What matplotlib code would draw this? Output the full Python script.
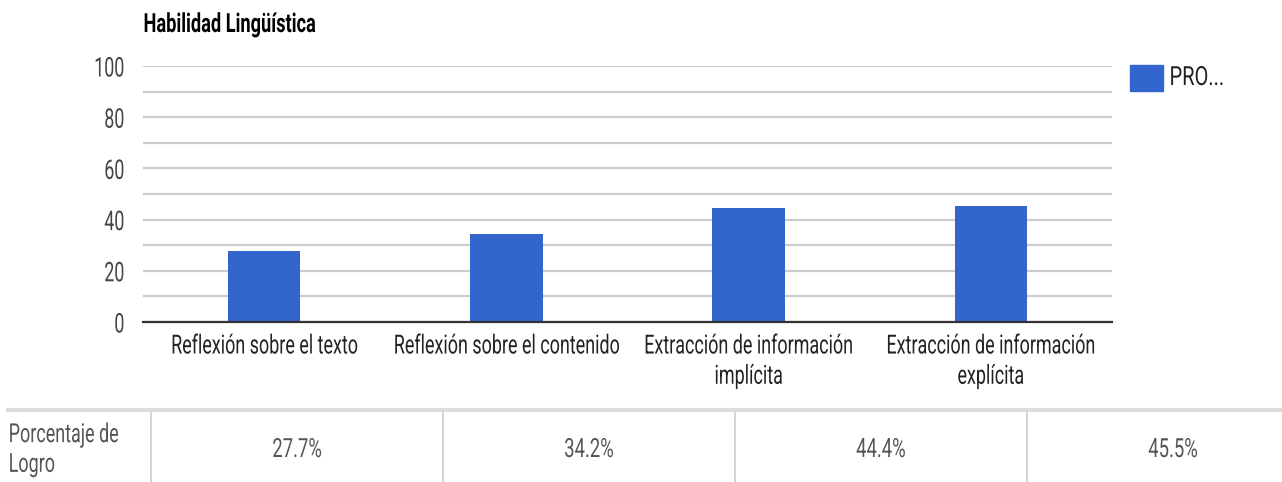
import matplotlib
matplotlib.use("Agg")
import matplotlib.pyplot as plt
from matplotlib.lines import Line2D
from matplotlib.patheffects import AbstractPathEffect
from matplotlib.transforms import Affine2D

categories = ["Reflexión sobre el texto", "Reflexión sobre el contenido",
              "Extracción de información\nimplícita", "Extracción de información\nexplícita"]
values = [27.7, 34.2, 44.4, 45.5]
value_labels = ["27.7%", "34.2%", "44.4%", "45.5%"]
series_name = "PRO..."
row_label = "Porcentaje de\nLogro"
title = "Habilidad Lingüística"

plt.rcParams['font.family'] = ['Roboto', 'DejaVu Sans']


class Squeeze(AbstractPathEffect):
    # no condensed font installed, so narrow the glyphs around the anchor point
    def __init__(self, sx=0.7, align=0.5):
        super().__init__()
        self.sx = sx
        self.align = align

    def draw_path(self, renderer, gc, tpath, affine, rgbFace=None):
        ext = tpath.get_extents()
        xa = ext.x0 + ext.width * self.align
        t = Affine2D().scale(self.sx, 1).translate(xa * (1 - self.sx), 0) + affine
        renderer.draw_path(gc, tpath, t, rgbFace)


W, H = 1282, 482
fig = plt.figure(figsize=(W / 100, H / 100), dpi=100)

# plot area in pixels: left 143, right 1112, top 66 (y=100), bottom 322 (y=0)
ax = fig.add_axes([143 / W, 1 - 322 / H, (1112 - 143) / W, (322 - 66) / H])
x = range(len(values))
ax.bar(x, values, width=0.3, color="#3366cc", zorder=3)
ax.set_xlim(-0.5, len(values) - 0.5)
ax.set_ylim(0, 100)
ax.set_yticks(range(0, 101, 20))
ax.set_yticks(range(0, 101, 10), minor=True)
ax.grid(axis="y", which="both", color="#cccccc", linewidth=1.6, zorder=0)
ax.set_xticks(list(x))
ax.set_xticklabels(categories, fontsize=19, color="#222222", linespacing=1.33, va="top")
ax.tick_params(axis="x", length=0, pad=9)
ax.tick_params(axis="y", which="both", length=0, pad=13, labelsize=19.5, labelcolor="#444444")
for lab in ax.get_xticklabels():
    lab.set_path_effects([Squeeze(0.68, 0.5)])
for lab in ax.get_yticklabels():
    lab.set_path_effects([Squeeze(0.66, 1.0)])
for s in ["top", "right", "left"]:
    ax.spines[s].set_visible(False)
ax.spines["bottom"].set_color("#333333")
ax.spines["bottom"].set_linewidth(1.6)
ax.spines["bottom"].set_zorder(4)

t = fig.text(143 / W, 1 - 25 / H, title, fontsize=19, fontweight="bold", color="#000000",
             va="center", ha="left")
t.set_path_effects([Squeeze(0.69, 0.0)])

# legend
fig.patches.append(plt.Rectangle((1130 / W, 1 - 91 / H), 33 / W, 26 / H,
                                 transform=fig.transFigure, color="#3366cc"))
t = fig.text(1169 / W, 1 - 78 / H, series_name, fontsize=19, color="#222222", va="center")
t.set_path_effects([Squeeze(0.76, 0.0)])

# table below the chart
fig.add_artist(Line2D([8 / W, 1], [1 - 410 / H] * 2, color="#dddddd", linewidth=3))
col_edges = [151, 443, 735, 1027, 1319]
for cx in col_edges[:4]:
    fig.add_artist(Line2D([cx / W] * 2, [1 - 412 / H, 0], color="#cccccc", linewidth=1.2))
t = fig.text(8 / W, 1 - 450 / H, row_label, fontsize=19, color="#555555", va="center",
             linespacing=1.3)
t.set_path_effects([Squeeze(0.68, 0.0)])
for i, lab in enumerate(value_labels):
    cx = (col_edges[i] + col_edges[i + 1]) / 2
    t = fig.text(cx / W, 1 - 450 / H, lab, fontsize=19, color="#555555", va="center", ha="center")
    t.set_path_effects([Squeeze(0.7, 0.5)])

fig.savefig("out.png", dpi=100)
